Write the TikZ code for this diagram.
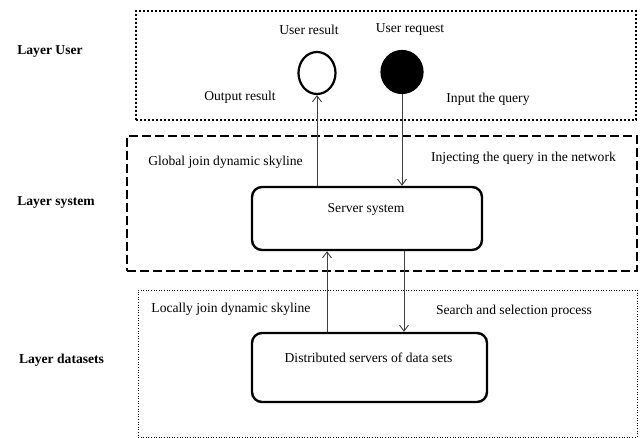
\documentclass[tikz,border=0pt]{standalone}
\usepackage{fontspec}
\setmainfont{Liberation Serif}
\usetikzlibrary{arrows.meta,positioning,shapes.geometric}

\tikzset{
    usrlayer/.style={draw, line width=2pt, dash pattern=on 2pt off 2pt, inner sep=0pt},
    syslayer/.style={draw, line width=2.6pt, dash pattern=on 9pt off 4pt, inner sep=0pt},
    datalayer/.style={draw, line width=1pt, dash pattern=on 1pt off 1.6pt, inner sep=0pt},
    procbox/.style={draw, line width=2.4pt, rounded corners=10pt, inner sep=0pt},
    endpoint/.style={ellipse, draw, line width=2.2pt, inner sep=0pt},
    layername/.style={font=\fontsize{13.6}{16}\selectfont\bfseries},
    flow/.style={draw=black!75, line width=0.9pt, -{Straight Barb[length=6pt,width=9pt]}},
}

\begin{document}
\begin{tikzpicture}[x=1pt, y=-1pt, font=\fontsize{13.6}{16}\selectfont]
    \useasboundingbox (0,0) rectangle (644,438);

    % the three layers
    \node[usrlayer, minimum width=500pt, minimum height=109pt] (user) at (386,65.5) {};
    \node[syslayer, minimum width=510pt, minimum height=135pt] (sys) at (382,203.5) {};
    \node[datalayer, minimum width=499pt, minimum height=147pt] (data) at (387.5,363.5) {};

    \node[layername] (lyuser) at (50,52) {Layer User};
    \node[layername] (lysys) at (56,203) {Layer system};
    \node[layername] (lydata) at (61.5,360) {Layer datasets};

    % user side
    \node[endpoint, minimum width=37pt, minimum height=42pt] (res) at (317,73) {};
    \node[endpoint, fill=black, minimum width=41pt, minimum height=42pt] (req) at (402,72) {};
    \node (restext) at (309,30) {User result};
    \node (reqtext) at (410,29) {User request};
    \node (outtext) at (240,97) {Output result};
    \node (intext) at (488,99) {Input the query};

    % servers
    \node[procbox, minimum width=230pt, minimum height=63pt] (srv) at (367,218.5) {};
    \node (srvtext) at (366,209) {Server system};
    \node[procbox, minimum width=235pt, minimum height=69pt] (dist) at (369.5,367.5) {};
    \node (disttext) at (368.5,358) {Distributed servers of data sets};

    \node (globtext) at (225.5,162) {Global join dynamic skyline};
    \node (injtext) at (523.5,158) {Injecting the query in the network};
    \node (loctext) at (231,309) {Locally join dynamic skyline};
    \node (seltext) at (514,311) {Search and selection process};

    % flows between the layers
    \draw[flow] (res.south |- srv.north) -- (res.south);
    \draw[flow] (req.south) -- (req.south |- srv.north);
    \draw[flow] ([xshift=-40pt]srv.south |- dist.north) -- ([xshift=-40pt]srv.south);
    \draw[flow] ([xshift=37pt]srv.south) -- ([xshift=37pt]srv.south |- dist.north);
\end{tikzpicture}
\end{document}
